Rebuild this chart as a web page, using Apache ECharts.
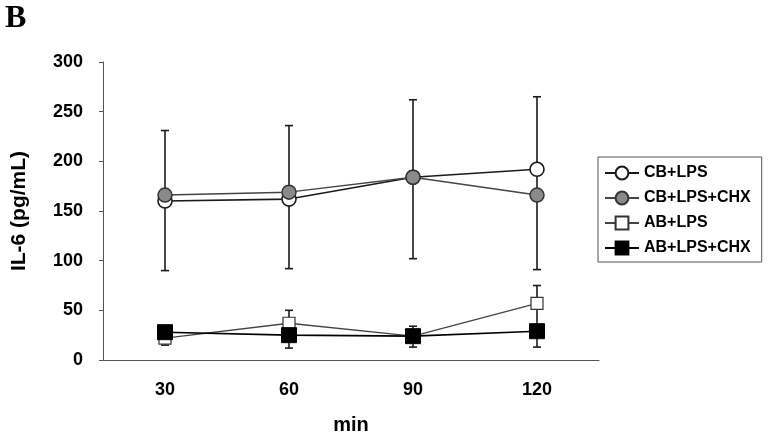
<!DOCTYPE html>
<html>
<head>
<meta charset="utf-8">
<style>
  html, body { margin: 0; padding: 0; background: #fff; }
  #chart { width: 769px; height: 440px; }
</style>
<script src="https://cdn.jsdelivr.net/npm/echarts@6/dist/echarts.min.js"></script>
</head>
<body>
<div id="chart"></div>
<script>
// time points (min)
const categories = ["30", "60", "90", "120"]

// IL-6 means (pg/mL)
const cbLps = [160, 162, 184, 192]
const cbLpsChx = [166, 169, 184, 166]
const abLps = [22, 37, 24, 57]
const abLpsChx = [28, 25, 24, 29]

// error bar ends, one bar per time point for each group
const cbErrLow = [90, 92, 102, 91]
const cbErrHigh = [231, 236, 262, 265]
const abErrLow = [15, 12, 13, 13]
const abErrHigh = [30, 50, 34, 75]

const font = "'Liberation Sans', Arial, sans-serif"

const chart = echarts.init(document.getElementById("chart"), null, { renderer: "canvas" })

const errorSeries = (name, low, high) => ({
  name,
  type: "custom",
  z: 1,
  silent: true,
  encode: { x: 0, y: [1, 2] },
  data: low.map((l, i) => [i, l, high[i]]),
  renderItem: (params, api) => {
    const lo = api.coord([api.value(0), api.value(1)])
    const hi = api.coord([api.value(0), api.value(2)])
    const cap = 4
    const style = { stroke: "#1a1a1a", lineWidth: 1.6 }
    return {
      type: "group",
      children: [
        { type: "line", shape: { x1: lo[0], y1: lo[1], x2: hi[0], y2: hi[1] }, style },
        { type: "line", shape: { x1: lo[0] - cap, y1: lo[1], x2: lo[0] + cap, y2: lo[1] }, style },
        { type: "line", shape: { x1: hi[0] - cap, y1: hi[1], x2: hi[0] + cap, y2: hi[1] }, style },
      ],
    }
  },
})

const lineSeries = (name, data, opts) => ({
  name,
  type: "line",
  z: opts.z,
  data,
  symbol: opts.symbol,
  symbolSize: opts.size,
  showAllSymbol: true,
  animation: false,
  lineStyle: { color: opts.line, width: opts.lineWidth },
  itemStyle: { color: opts.fill, borderColor: opts.border, borderWidth: opts.borderWidth, opacity: 1 },
  emphasis: { disabled: true },
})

chart.setOption({
  animation: false,
  backgroundColor: "#fff",
  graphic: [
    {
      type: "text",
      left: 5,
      top: 3,
      style: { text: "B", font: "bold 32px 'Liberation Serif', 'Times New Roman', serif", fill: "#000" },
    },
  ],
  grid: { left: 103, right: 170, top: 62, bottom: 76 },
  legend: {
    orient: "vertical",
    left: 598,
    top: 157,
    data: ["CB+LPS", "CB+LPS+CHX", "AB+LPS", "AB+LPS+CHX"],
    itemWidth: 34,
    itemHeight: 16,
    itemGap: 9,
    padding: [8, 11, 6, 6],
    borderColor: "#555",
    borderWidth: 1,
    selectedMode: false,
    textStyle: { fontFamily: font, fontWeight: "bold", fontSize: 16, color: "#000" },
  },
  xAxis: {
    type: "category",
    data: categories,
    boundaryGap: true,
    name: "min",
    nameLocation: "middle",
    nameGap: 55,
    nameTextStyle: { fontFamily: font, fontWeight: "bold", fontSize: 20, color: "#000" },
    axisLine: { lineStyle: { color: "#555", width: 1 } },
    axisTick: { inside: true, length: 6, lineStyle: { color: "#555" } },
    axisLabel: { margin: 21, fontFamily: font, fontWeight: "bold", fontSize: 18, color: "#000" },
    splitLine: { show: false },
  },
  yAxis: {
    type: "value",
    min: 0,
    max: 300,
    interval: 50,
    name: "IL-6 (pg/mL)",
    nameLocation: "middle",
    nameGap: 73,
    nameRotate: 90,
    nameTextStyle: { fontFamily: font, fontWeight: "bold", fontSize: 21, color: "#000" },
    axisLine: { show: true, lineStyle: { color: "#555", width: 1 } },
    axisTick: { show: true, inside: false, length: 4, lineStyle: { color: "#555" } },
    axisLabel: { margin: 20, fontFamily: font, fontWeight: "bold", fontSize: 18, color: "#000" },
    splitLine: { show: false },
  },
  series: [
    errorSeries("cbErr", cbErrLow, cbErrHigh),
    errorSeries("abErr", abErrLow, abErrHigh),
    lineSeries("CB+LPS", cbLps, {
      z: 2, symbol: "circle", size: 14, fill: "#fff", border: "#1a1a1a", borderWidth: 1.6, line: "#1a1a1a", lineWidth: 1.6,
    }),
    lineSeries("CB+LPS+CHX", cbLpsChx, {
      z: 3, symbol: "circle", size: 14, fill: "#8a8a8a", border: "#333", borderWidth: 1.5, line: "#444", lineWidth: 1.5,
    }),
    lineSeries("AB+LPS", abLps, {
      z: 4, symbol: "rect", size: 12, fill: "#fff", border: "#333", borderWidth: 1.2, line: "#444", lineWidth: 1.3,
    }),
    lineSeries("AB+LPS+CHX", abLpsChx, {
      z: 5, symbol: "rect", size: 15, fill: "#000", border: "#000", borderWidth: 1, line: "#000", lineWidth: 1.6,
    }),
  ],
})
</script>
</body>
</html>
